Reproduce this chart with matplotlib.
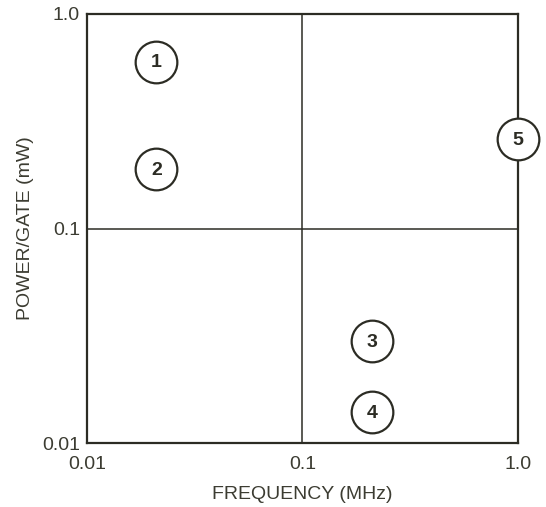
import matplotlib
matplotlib.use("Agg")
import matplotlib.pyplot as plt

plt.rcParams['font.family'] = ['Liberation Sans', 'DejaVu Sans']

# Operating points: frequency (MHz) and power per gate (mW)
labels = ["1", "2", "3", "4", "5"]
freq_mhz = [0.021, 0.021, 0.21, 0.21, 1.0]
power_mw = [0.6, 0.19, 0.03, 0.014, 0.26]

tick_vals = [0.01, 0.1, 1.0]
tick_labels = ["0.01", "0.1", "1.0"]

ink = "#2c2c24"
txt = "#3c3c32"

fig = plt.figure(figsize=(5.46, 5.07), dpi=100)
ax = fig.add_axes([0.1593, 0.1262, 0.7894, 0.8462])
ax.set_xscale("log")
ax.set_yscale("log")
ax.set_xlim(0.01, 1.0)
ax.set_ylim(0.01, 1.0)

ax.set_xticks(tick_vals)
ax.set_xticklabels(tick_labels)
ax.set_yticks(tick_vals)
ax.set_yticklabels(tick_labels)
ax.minorticks_off()
ax.tick_params(length=0, labelsize=14, labelcolor=txt)
ax.tick_params(axis="x", pad=9)
ax.tick_params(axis="y", pad=5)

for s in ax.spines.values():
    s.set_linewidth(1.6)
    s.set_color(ink)

ax.axvline(0.1, color=ink, lw=1.1, zorder=1)
ax.axhline(0.1, color=ink, lw=1.1, zorder=1)

ax.scatter(freq_mhz, power_mw, s=900, facecolor="white", edgecolor=ink,
           linewidth=1.6, zorder=4, clip_on=False)
for lab, fx, py in zip(labels, freq_mhz, power_mw):
    ax.annotate(lab, (fx, py), xytext=(0, -1), textcoords="offset points",
                ha="center", va="center", fontsize=14, fontweight="bold",
                color=ink, zorder=5, annotation_clip=False)

ax.set_xlabel("FREQUENCY (MHz)", fontsize=14, color=txt, labelpad=10)
ax.set_ylabel("POWER/GATE (mW)", fontsize=14, color=txt, labelpad=6)

fig.savefig("out.png", dpi=100)
